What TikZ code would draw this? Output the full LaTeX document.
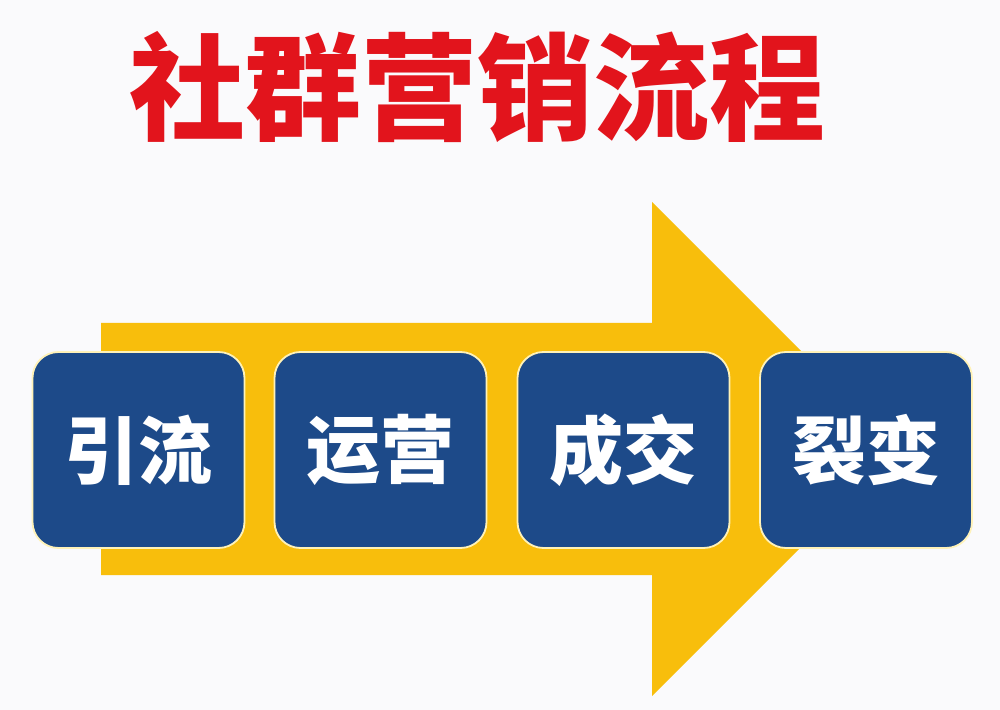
\documentclass[tikz,border=0pt]{standalone}
\usepackage{fontspec}
\usepackage{tikz}
\usetikzlibrary{arrows,shapes}
\newfontfamily\cjk{Noto Sans CJK SC}
\definecolor{pagebg}{HTML}{FAFAFC}
\definecolor{flowyellow}{HTML}{F8BE0C}
\definecolor{stageblue}{HTML}{1D4A89}
\definecolor{titlered}{HTML}{E2141C}
\definecolor{rimcolor}{HTML}{FFF2B8}
\tikzstyle{stage}=[rectangle, rounded corners=13pt
,minimum width=106pt
,minimum height=98pt
,inner sep=0pt
]
\tikzstyle{stage box} = [stage, fill=stageblue, draw=rimcolor, line width=0.9pt,
  text=white, font=\cjk\bfseries\fontsize{37pt}{40pt}\selectfont]
\tikzstyle{title} = [text=titlered, font=\cjk\bfseries\fontsize{58pt}{62pt}\selectfont]
\tikzstyle{flow} = [fill=flowyellow]

\begin{document}
\begin{tikzpicture}[x=0.5pt,y=-0.5pt]
    % Background of the page
    \fill[pagebg] (0,0) rectangle (1000,710);
    \useasboundingbox (0,0) rectangle (1000,710);

    % The title
    \node[title] (T) at (477,87) {社群营销流程};

    % The big arrow behind the stages
    \coordinate (tip) at (899,449);
    \path[flow] (101,323) -- (652,323) -- (652,202) -- (tip)
        -- (652,696) -- (652,575) -- (101,575) -- cycle;

    % Then we draw the four stages
    \foreach \pos/\name/\label in {{(138.5,450)/S_1/引流}, {(380.5,450)/S_2/运营},
        {(623.5,450)/S_3/成交}, {(866,450)/S_4/裂变}}
        \node[stage box] (\name) at \pos {\label};

\end{tikzpicture}
\end{document}
